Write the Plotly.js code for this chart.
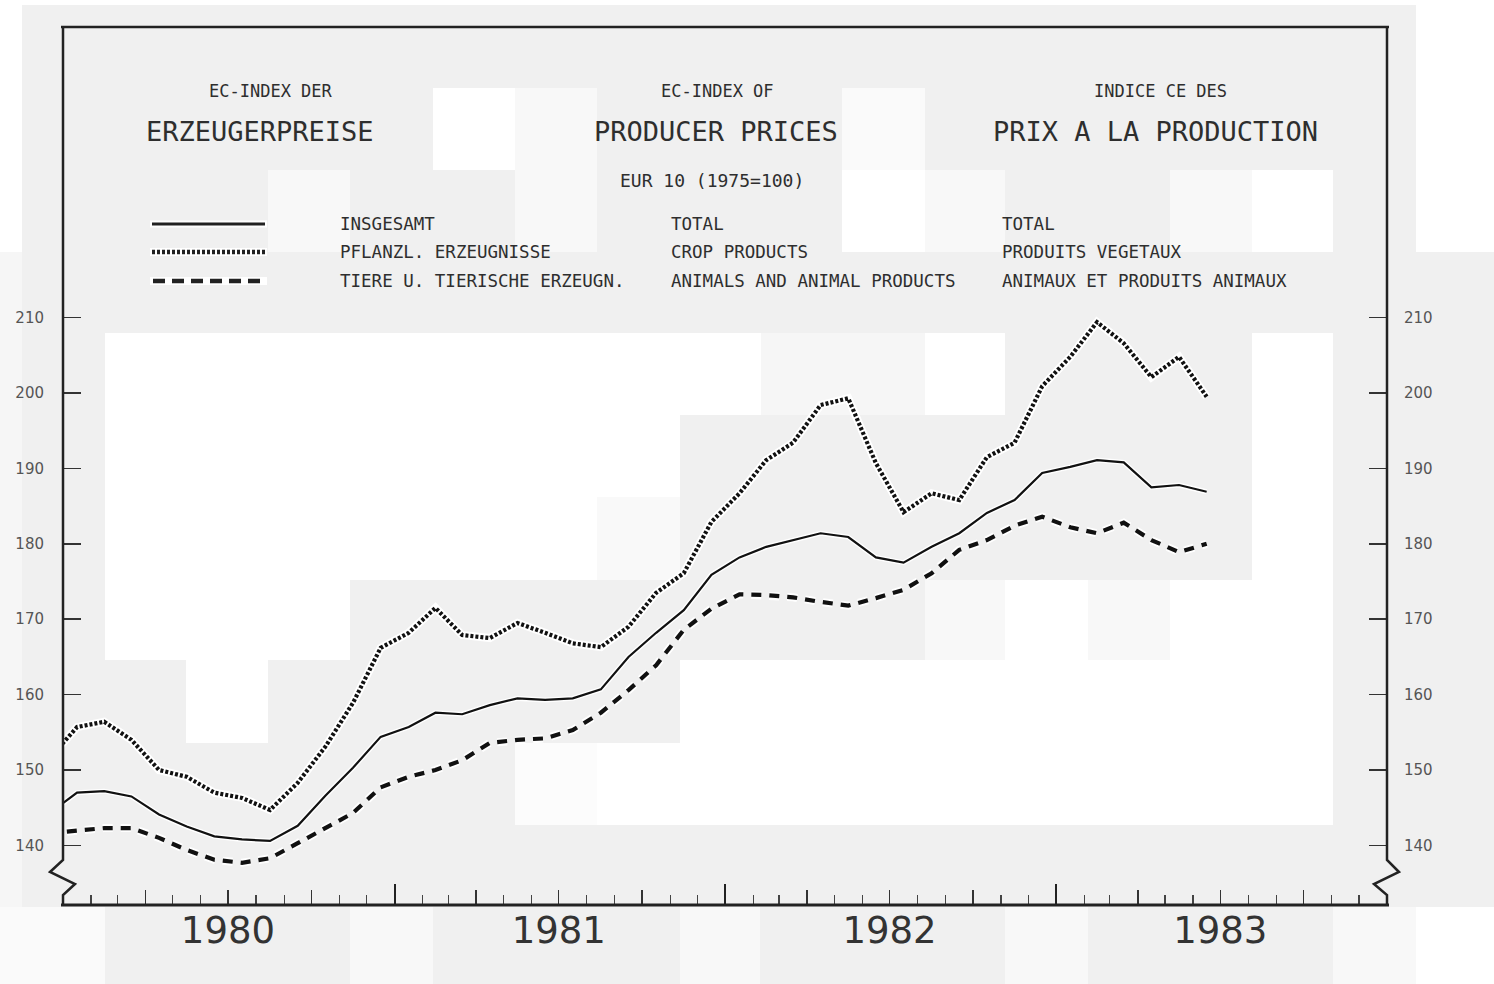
<!DOCTYPE html>
<html>
<head>
<meta charset="utf-8">
<script src="https://cdn.plot.ly/plotly-3.0.1.min.js"></script>
<style>
  html, body { margin: 0; padding: 0; background: #f0f0f0; }
  #chart { width: 1494px; height: 984px; }
</style>
</head>
<body>
<div id="chart"></div>
<script>
// ---------------- DATA ----------------
// monthly observations, Dec 1979 .. Jun 1983 (EUR 10, 1975 = 100)
const months = [
  '1979-12',
  '1980-01','1980-02','1980-03','1980-04','1980-05','1980-06','1980-07','1980-08','1980-09','1980-10','1980-11','1980-12',
  '1981-01','1981-02','1981-03','1981-04','1981-05','1981-06','1981-07','1981-08','1981-09','1981-10','1981-11','1981-12',
  '1982-01','1982-02','1982-03','1982-04','1982-05','1982-06','1982-07','1982-08','1982-09','1982-10','1982-11','1982-12',
  '1983-01','1983-02','1983-03','1983-04','1983-05','1983-06'
];
const total = [
  144.2,
  147.0,147.2,146.5,144.1,142.5,141.2,140.8,140.6,142.6,146.6,150.3,154.4,
  155.7,157.6,157.4,158.6,159.5,159.3,159.5,160.7,165.0,168.2,171.2,175.9,
  178.2,179.6,180.5,181.4,180.9,178.2,177.5,179.6,181.4,184.1,185.8,189.4,
  190.2,191.1,190.8,187.5,187.8,186.9
];
const crop = [
  151.5,
  155.7,156.4,154.0,150.0,149.1,147.0,146.3,144.7,148.3,153.1,158.9,166.2,
  168.2,171.5,167.9,167.5,169.5,168.2,166.8,166.3,169.0,173.5,176.1,182.9,
  186.7,191.1,193.4,198.4,199.3,190.7,184.2,186.7,185.8,191.5,193.4,200.9,
  204.8,209.4,206.6,202.1,204.8,199.5
];
const animal = [
  141.6,
  142.0,142.3,142.3,141.0,139.4,138.1,137.7,138.3,140.3,142.3,144.3,147.7,
  149.1,150.0,151.3,153.6,154.0,154.2,155.3,157.6,160.6,163.9,168.6,171.4,
  173.3,173.2,172.9,172.3,171.8,172.8,173.9,176.1,179.2,180.5,182.4,183.6,
  182.2,181.4,182.8,180.5,178.9,180.0
];
const yTicks = [140, 150, 160, 170, 180, 190, 200, 210];
const yearLabels = ['1980', '1981', '1982', '1983'];
const yearMids = ['1980-07-01', '1981-07-01', '1982-07-01', '1983-07-01'];
const yearStarts = ['1980-01-01', '1981-01-01', '1982-01-01', '1983-01-01', '1984-01-01'];
const xRange = ['1980-01-01', '1984-01-01'];
const yRange = [132.1, 248.54];

const titleDE = ['EC-INDEX DER', 'ERZEUGERPREISE'];
const titleEN = ['EC-INDEX OF', 'PRODUCER PRICES'];
const titleFR = ['INDICE CE DES', 'PRIX A LA PRODUCTION'];
const subTitle = 'EUR 10 (1975=100)';
const legendDE = ['INSGESAMT', 'PFLANZL. ERZEUGNISSE', 'TIERE U. TIERISCHE ERZEUGN.'];
const legendEN = ['TOTAL', 'CROP PRODUCTS', 'ANIMALS AND ANIMAL PRODUCTS'];
const legendFR = ['TOTAL', 'PRODUITS VEGETAUX', 'ANIMAUX ET PRODUITS ANIMAUX'];

// ---------------- GEOMETRY HELPERS ----------------
const W = 1494, H = 984;
const PL = 63, PR = 1387, PT = 27, PB = 905;
const px = p => (p - PL) / (PR - PL);
const py = p => (PB - p) / (PB - PT);

const GRAY = '#f0f0f0', WHITE = '#ffffff', LIGHT = '#f8f8f8';
const INK = '#222222', TXT = '#2e2e2e';

const shapes = [];
function rect(x0, y0, x1, y1, c) {
  shapes.push({type: 'rect', xref: 'paper', yref: 'paper', layer: 'below',
    x0: px(x0), x1: px(x1), y0: py(y1), y1: py(y0),
    fillcolor: c, line: {width: 0}});
}
function pathPx(pts, width, dash) {
  const d = pts.map((p, i) => (i ? 'L' : 'M') + px(p[0]).toFixed(5) + ',' + py(p[1]).toFixed(5)).join(' ');
  shapes.push({type: 'path', xref: 'paper', yref: 'paper', layer: 'above', path: d,
    line: {color: INK, width: width, dash: dash || 'solid'}});
}
function seg(x0, y0, x1, y1, color, width, dash, layer) {
  shapes.push({type: 'line', xref: 'paper', yref: 'paper', layer: layer || 'above',
    x0: px(x0), x1: px(x1), y0: py(y0), y1: py(y1),
    line: {color: color, width: width, dash: dash || 'solid'}});
}

// scanned-paper background patches
[
  [0, 0, 1494, 5, WHITE], [0, 5, 22, 252, WHITE], [1416, 5, 1494, 252, WHITE], [0, 252, 22, 907, '#f6f6f6'],
  [433, 88, 515, 170, WHITE], [515, 88, 597, 252, LIGHT], [268, 170, 350, 252, LIGHT],
  [842, 88, 925, 170, '#fafafa'], [842, 170, 925, 252, WHITE], [925, 170, 1005, 252, LIGHT],
  [1170, 170, 1252, 252, LIGHT], [1252, 170, 1333, 252, WHITE],
  [105, 333, 761, 415, WHITE], [761, 333, 925, 415, '#f6f6f6'], [925, 333, 1005, 415, WHITE], [1252, 333, 1333, 415, WHITE],
  [105, 415, 680, 497, WHITE], [1252, 415, 1333, 497, WHITE],
  [105, 497, 597, 580, WHITE], [597, 497, 680, 580, '#f9f9f9'], [1252, 497, 1333, 580, WHITE],
  [105, 580, 350, 660, WHITE], [925, 580, 1005, 660, LIGHT], [1005, 580, 1088, 660, WHITE],
  [1088, 580, 1170, 660, LIGHT], [1170, 580, 1333, 660, WHITE],
  [186, 660, 268, 743, WHITE], [680, 660, 1333, 743, WHITE],
  [515, 743, 597, 825, '#fcfcfc'], [597, 743, 1333, 825, WHITE],
  [0, 907, 105, 984, '#fafafa'], [350, 907, 433, 984, LIGHT], [680, 907, 760, 984, LIGHT],
  [1005, 907, 1088, 984, LIGHT], [1333, 907, 1416, 984, LIGHT], [1416, 907, 1494, 984, WHITE]
].forEach(r => rect(...r));

// frame with axis-break zigzags
pathPx([[61, 27], [1389, 27]], 2.5);
pathPx([[63, 27], [63, 860], [50, 872], [75, 884], [63, 895], [63, 906]], 2.5);
pathPx([[1387, 27], [1387, 860], [1399, 872], [1374, 884], [1387, 895], [1387, 906]], 2.5);
pathPx([[61, 905], [1389, 905]], 3);

// legend samples
const CROP_DASH = '3px,2px', ANIM_DASH = '10px,8px';
seg(150, 224, 267, 224, WHITE, 7, 'solid');
seg(152, 224, 265, 224, INK, 3, 'solid');
seg(150, 252, 267, 252, WHITE, 8, 'solid');
seg(152, 252, 265, 252, INK, 4.5, CROP_DASH);
seg(150, 281, 267, 281, WHITE, 8, 'solid');
seg(153, 281, 265, 281, INK, 4.5, '12px,7px');

// ---------------- TEXT ----------------
const annotations = [];
function txt(s, x, y, size, anchor, color) {
  annotations.push({text: s, xref: 'paper', yref: 'paper', x: px(x), y: py(y),
    xanchor: anchor || 'center', yanchor: 'middle', showarrow: false,
    font: {family: 'DejaVu Sans Mono', size: size, color: color || TXT}});
}
txt(titleDE[0], 271, 91, 17);
txt(titleDE[1], 260, 131, 27);
txt(titleEN[0], 717, 91, 17);
txt(titleEN[1], 716, 131, 27);
txt(titleFR[0], 1160, 91, 17);
txt(titleFR[1], 1155, 131, 27);
txt(subTitle, 712, 180, 18);
[legendDE, legendEN, legendFR].forEach((col, ci) => {
  const xs = [338, 669, 1000][ci];
  col.forEach((s, ri) => txt(s, xs, [224, 252, 281][ri], 17.5, 'left'));
});

// ---------------- TRACES ----------------
const common = {x: months, xperiod: 'M1', xperiodalignment: 'middle', mode: 'lines',
  hoverinfo: 'skip', showlegend: false, xaxis: 'x', yaxis: 'y'};
const traces = [
  Object.assign({}, common, {y: crop, line: {color: WHITE, width: 8}}),
  Object.assign({}, common, {y: animal, line: {color: WHITE, width: 8, dash: ANIM_DASH}}),
  Object.assign({}, common, {y: total, line: {color: WHITE, width: 5}}),
  Object.assign({}, common, {y: total, name: 'INSGESAMT', line: {color: '#111', width: 2.2}}),
  Object.assign({}, common, {y: crop, name: 'PFLANZL. ERZEUGNISSE', line: {color: '#111', width: 4.2, dash: CROP_DASH}}),
  Object.assign({}, common, {y: animal, name: 'TIERE U. TIERISCHE ERZEUGN.', line: {color: '#111', width: 4.2, dash: ANIM_DASH}}),
  {x: [null], y: [null], xaxis: 'x2', yaxis: 'y2', mode: 'lines', showlegend: false, hoverinfo: 'skip'},
  {x: [null], y: [null], xaxis: 'x3', yaxis: 'y', mode: 'lines', showlegend: false, hoverinfo: 'skip'}
];

const yBase = {range: yRange, tickmode: 'array', tickvals: yTicks, ticks: 'inside', ticklen: 18,
  tickwidth: 1.6, tickcolor: '#333', showgrid: false, zeroline: false, showline: false,
  tickfont: {family: 'DejaVu Sans', size: 15, color: '#555'}, fixedrange: true};
const xBase = {type: 'date', range: xRange, showgrid: false, zeroline: false, showline: false, fixedrange: true};

const layout = {
  width: W, height: H,
  margin: {l: PL, r: W - PR, t: PT, b: H - PB, pad: 0},
  paper_bgcolor: GRAY, plot_bgcolor: 'rgba(0,0,0,0)',
  showlegend: false,
  xaxis: Object.assign({}, xBase, {tickmode: 'linear', tick0: '1980-01-01', dtick: 'M3',
    ticks: 'inside', ticklen: 15, tickwidth: 1.5, tickcolor: '#333', showticklabels: false,
    minor: {tickmode: 'linear', tick0: '1980-01-01', dtick: 'M1', ticks: 'inside', ticklen: 10, tickwidth: 1.2, tickcolor: '#444'}}),
  xaxis2: Object.assign({}, xBase, {overlaying: 'x', anchor: 'y', side: 'bottom', tickmode: 'array',
    tickvals: yearStarts, ticks: 'inside', ticklen: 21, tickwidth: 2, tickcolor: '#222', showticklabels: false}),
  xaxis3: Object.assign({}, xBase, {overlaying: 'x', anchor: 'y', side: 'bottom', tickmode: 'array',
    tickvals: yearMids, ticktext: yearLabels, ticks: '', ticklabelstandoff: 0,
    tickfont: {family: 'DejaVu Sans', size: 37, color: '#333'}}),
  yaxis: Object.assign({}, yBase, {side: 'left', ticklabelstandoff: 18}),
  yaxis2: Object.assign({}, yBase, {overlaying: 'y', side: 'right', anchor: 'x', ticklabelstandoff: 16}),
  shapes: shapes,
  annotations: annotations
};

Plotly.newPlot('chart', traces, layout, {staticPlot: true, displayModeBar: false});
</script>
</body>
</html>
